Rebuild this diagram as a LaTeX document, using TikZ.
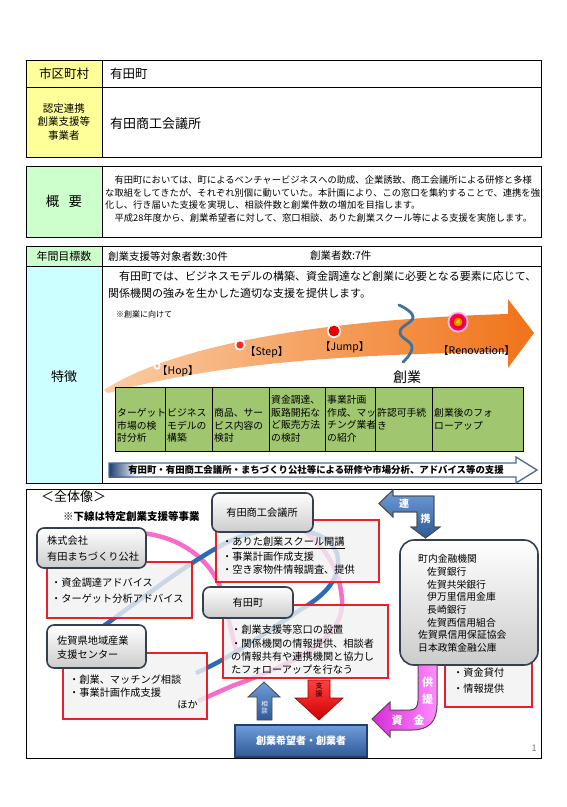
\documentclass[tikz,border=0pt]{standalone}
\usepackage{fontspec}
\setmainfont{Noto Sans CJK JP}
\usetikzlibrary{calc}
\definecolor{ylw}{HTML}{FFFF99}
\definecolor{lgreen}{HTML}{CCFFCC}
\definecolor{lcyan}{HTML}{CCFFFF}
\definecolor{cellgreen}{RGB}{160,198,112}
\definecolor{boxedge}{HTML}{34404F}
\definecolor{navy}{HTML}{1F3F73}
\definecolor{arrowedge}{HTML}{4A6A94}
\definecolor{redbox}{HTML}{E8202A}
\definecolor{pinkline}{HTML}{F56CCB}
\definecolor{blueline}{HTML}{2A6CB8}
\definecolor{peach}{RGB}{250,205,165}
\definecolor{dorange}{RGB}{240,115,25}
\definecolor{squig}{HTML}{41719C}
\definecolor{bluetop}{HTML}{6E9DDA}
\definecolor{bluebot}{HTML}{2E5A96}
\definecolor{magtop}{HTML}{FF8CFF}
\definecolor{magbot}{HTML}{D62CD6}
\definecolor{redtop}{HTML}{FF4040}
\definecolor{redbot}{HTML}{D00000}
\begin{document}
\begin{tikzpicture}[x=1pt,y=-1pt,
  lbl/.style={anchor=west,inner sep=0pt},
  lble/.style={anchor=east,inner sep=0pt},
  ctr/.style={anchor=center,inner sep=0pt},
  tline/.style={line width=0.8pt,draw=black},
  grbox/.style={draw=boxedge,line width=1.6pt,rounded corners=7pt,top color=white,bottom color=black!20},
  rbox/.style={draw=redbox,line width=1.1pt,fill=black!5,fill opacity=0.8},
  cellbox/.style={draw=black,line width=0.8pt,fill=cellgreen},
  celltxt/.style={anchor=west,inner sep=0pt,align=left,font=\fontsize{9.8}{12.5}\selectfont},
  blockarrow/.style={draw=black!70,line width=0.8pt},
  fa/.style={font=\fontsize{9.3}{10}\selectfont},
  fb/.style={font=\fontsize{10.2}{12}\selectfont},
  fc/.style={font=\fontsize{11}{12}\selectfont},
  fd/.style={font=\fontsize{12.5}{14}\selectfont},
  ff/.style={font=\fontsize{9.8}{12}\selectfont},
]
\useasboundingbox (0,0) rectangle (566,807);
\fill[white] (0,0) rectangle (566,807);

% ---------- table 1 ----------
\fill[ylw] (26,60) rectangle (102,157);
\draw[tline] (26,60) rectangle (541,157);
\draw[tline] (102,60) -- (102,157);
\draw[tline] (26,87) -- (541,87);
\node[ctr,fd] (muni) at (64,73.5) {市区町村};
\node[lbl,fd] (munival) at (110,73.5) {有田町};
\node[ctr,align=center,font=\fontsize{10.5}{13.5}\selectfont] (cert) at (64,122) {認定連携\\創業支援等\\事業者};
\node[lbl,font=\fontsize{13}{15}\selectfont] (certval) at (110,124) {有田商工会議所};

% ---------- table 2 ----------
\fill[lgreen] (26,166) rectangle (102,237);
\draw[tline] (26,166) rectangle (541,237);
\draw[tline] (102,166) -- (102,237);
\node[ctr,font=\fontsize{13.5}{15}\selectfont] (gaiyo) at (64,201) {概\hspace{0.7em}要};
\node[lbl,fa] (ov1) at (105,180) {　有田町においては、町によるベンチャービジネスへの助成、企業誘致、商工会議所による研修と多様};
\node[lbl,fa] (ov2) at (105,192.5) {な取組をしてきたが、それぞれ別個に動いていた。本計画により、この窓口を集約することで、連携を強};
\node[lbl,fa] (ov3) at (105,205) {化し、行き届いた支援を実現し、相談件数と創業件数の増加を目指します。};
\node[lbl,fa] (ov4) at (105,217.5) {　平成28年度から、創業希望者に対して、窓口相談、ありた創業スクール等による支援を実施します。};

% ---------- table 3 ----------
\fill[lgreen] (26,246) rectangle (102,266);
\fill[lcyan] (26,266) rectangle (102,483);
\draw[tline] (26,246) rectangle (541,483);
\draw[tline] (102,246) -- (102,483);
\draw[tline] (26,266) -- (541,266);
\node[ctr,font=\fontsize{11}{13}\selectfont] (goal) at (64,256) {年間目標数};
\node[lbl,font=\fontsize{10.5}{12}\selectfont] (goal1) at (108,256) {創業支援等対象者数:30件};
\node[lbl,font=\fontsize{10.5}{12}\selectfont] (goal2) at (310,256) {創業者数:7件};
\node[ctr,font=\fontsize{13}{15}\selectfont] (tokucho) at (64,377) {特徴};
\node[lbl,fc] (tk1) at (108,276) {　有田町では、ビジネスモデルの構築、資金調達など創業に必要となる要素に応じて、};
\node[lbl,fc] (tk2) at (108,293) {関係機関の強みを生かした適切な支援を提供します。};
\node[lbl,font=\fontsize{8}{10}\selectfont] (toward) at (116,314) {※創業に向けて};

% orange curved arrow
\shade[left color=peach,right color=dorange]
  (104,390) .. controls (165,350) and (300,320) .. (508,314)
  -- (508,299) -- (534,333) -- (508,368) -- (508,352)
  .. controls (340,354) and (215,364) .. (108,393) -- cycle;

% squiggle
\draw[squig,line width=2.8pt,line cap=round] plot[smooth,tension=0.8] coordinates {(399,305) (413,317) (400,332) (412,347) (403,362)};

% dots
\fill[white] (157,366) circle (3.6);
\fill[peach!70!orange] (157,366) circle (1.9);
\fill[white] (240,345) circle (5.6);
\fill[red!80!pink] (240,345) circle (3.6);
\fill[white] (334,331) circle (7);
\fill[red!92!black] (334,331) circle (5.4);
\fill[magenta!25] (458,322) circle (10.5);
\fill[magenta!80!red] (458,322) circle (8.6);
\fill[red] (458,322) circle (6.5);
\fill[orange] (458,322) circle (4.3);
\fill[yellow!70!green] (458,322) circle (2);

\node[lbl,font=\fontsize{10.5}{12}\selectfont] (hop) at (157,371) {【Hop】};
\node[lbl,font=\fontsize{10.5}{12}\selectfont] (step) at (245,352) {【Step】};
\node[lbl,font=\fontsize{10.5}{12}\selectfont] (jump) at (320,347) {【Jump】};
\node[lbl,font=\fontsize{10.5}{12}\selectfont] (renov) at (438,351) {【Renovation】};
\node[ctr,font=\fontsize{14}{16}\selectfont] (sogyo) at (407,377) {創業};

% green cells
\draw[cellbox] (115,387) rectangle (165,451);
\draw[cellbox] (165,387) rectangle (212,451);
\draw[cellbox] (212,387) rectangle (269,451);
\draw[cellbox] (269,387) rectangle (325,451);
\draw[cellbox] (325,387) rectangle (375,451);
\draw[cellbox] (375,387) rectangle (432,451);
\draw[cellbox] (432,387) rectangle (523,451);
\node[celltxt] (c1) at (117,425.5) {ターゲット\\市場の検\\討分析};
\node[celltxt] (c2) at (167,425.5) {ビジネス\\モデルの\\構築};
\node[celltxt] (c3) at (214,425.5) {商品、サー\\ビス内容の\\検討};
\node[celltxt] (c4) at (271,419) {資金調達、\\販路開拓な\\ど販売方法\\の検討};
\node[celltxt] (c5) at (327,419) {事業計画\\作成、マッ\\チング業者\\の紹介};
\node[celltxt] (c6) at (377,419) {許認可手続\\き};
\node[celltxt] (c7) at (434,419) {創業後のフォ\\ローアップ};

% blue outline arrow
\fill[white] (109,463) -- (516,463) -- (516,457) -- (537,470) -- (516,483) -- (516,477) -- (109,477) -- cycle;
\shade[left color=navy,right color=white] (109,463) rectangle (138,477);
\draw[draw=arrowedge,line width=1.3pt,line join=miter] (109,463) -- (516,463) -- (516,457) -- (537,470) -- (516,483) -- (516,477) -- (109,477) -- cycle;
\node[ctr,font=\bfseries\fontsize{9.4}{11}\selectfont] (support) at (316,470) {有田町・有田商工会議所・まちづくり公社等による研修や市場分析、アドバイス等の支援};

% ---------- bottom overview ----------
\draw[tline] (26,489) rectangle (541,758);
\node[lbl,font=\fontsize{13}{15}\selectfont] (zentai) at (41,497) {＜全体像＞};
\node[lbl,font=\bfseries\fontsize{10.5}{12}\selectfont] (note) at (63,516) {※下線は特定創業支援等事業};

% decorative loops
\draw[pinkline,line width=4.5pt] (140,533) .. controls (180,536) and (212,560) .. (222,592) .. controls (228,615) and (232,635) .. (236,650);
\draw[pinkline,line width=4.5pt] (198,701) -- (232,686) .. controls (290,665) and (345,640) .. (342,600) .. controls (340,570) and (325,545) .. (300,528);
\draw[blueline,line width=4.5pt] (98,630) .. controls (140,600) and (185,565) .. (222,545) .. controls (270,518) and (342,525) .. (338,565) .. controls (336,585) and (320,598) .. (300,610) .. controls (262,635) and (232,657) .. (196,673);

% red info boxes
\draw[rbox] (47,562) rectangle (192,618);
\draw[rbox] (216,520) rectangle (379,582);
\draw[rbox] (223,605) rectangle (388,678);
\draw[rbox] (63,653) rectangle (207,719);
\draw[rbox] (445,645) rectangle (532,707);

% organisation boxes
\draw[grbox] (37,528) rectangle (146,568);
\draw[grbox] (212,493) rectangle (313,532);
\draw[grbox] (203,587) rectangle (293,618);
\draw[grbox] (47,625) rectangle (146,668);
\draw[grbox,rounded corners=14pt] (400,540) rectangle (538,665);

\node[lbl,fb] (kk1) at (47,541) {株式会社};
\node[lbl,fb] (kk2) at (47,557) {有田まちづくり公社};
\node[lbl,fb] (kk3) at (51,583) {・資金調達アドバイス};
\node[lbl,fb] (kk4) at (51,599) {・ターゲット分析アドバイス};

\node[ctr,fb] (cci) at (262,513) {有田商工会議所};
\node[lbl,fb] (cci1) at (222,543) {・\underline{ありた創業スクール開講}};
\node[lbl,fb] (cci2) at (222,556.5) {・事業計画作成支援};
\node[lbl,fb] (cci3) at (222,570) {・空き家物件情報調査、提供};

\node[ctr,fb] (town) at (248,603) {有田町};
\node[lbl,fb] (tw1) at (231,630) {・創業支援等窓口の設置};
\node[lbl,fb] (tw2) at (231,643.5) {・関係機関の情報提供、相談者};
\node[lbl,fb] (tw3) at (231,657) {の情報共有や連携機関と協力し};
\node[lbl,fb] (tw4) at (231,670) {たフォローアップを行なう};

\node[lbl,fb] (sg1) at (57,641) {佐賀県地域産業};
\node[lbl,fb] (sg2) at (57,655) {支援センター};
\node[lbl,fb] (sg3) at (69,680) {・創業、マッチング相談};
\node[lbl,fb] (sg4) at (69,692.5) {・事業計画作成支援};
\node[lble,fb] (sg5) at (198,705) {ほか};

\node[lbl,ff] (fn0) at (418,559) {町内金融機関};
\node[lbl,ff] (fn1) at (427,571.7) {佐賀銀行};
\node[lbl,ff] (fn2) at (427,584.4) {佐賀共栄銀行};
\node[lbl,ff] (fn3) at (427,597) {伊万里信用金庫};
\node[lbl,ff] (fn4) at (427,609.8) {長崎銀行};
\node[lbl,ff] (fn5) at (427,622.5) {佐賀西信用組合};
\node[lbl,ff] (fn6) at (418,635.2) {佐賀県信用保証協会};
\node[lbl,ff] (fn7) at (418,648) {日本政策金融公庫};
\node[lbl,fb] (fn8) at (453,673) {・資金貸付};
\node[lbl,fb] (fn9) at (453,689) {・情報提供};

% entrepreneurs box
\draw[draw=navy,line width=1.6pt,top color=bluetop,bottom color=bluebot] (235,725) rectangle (367,757);
\node[ctr,text=white,font=\bfseries\fontsize{10}{12}\selectfont] (seeker) at (301,741) {創業希望者・創業者};

% 連携 arrow
\shade[top color=bluetop,bottom color=bluebot,blockarrow]
 (379,503.5) -- (393,490) -- (393,496) -- (434,496) -- (434,527) -- (440,527) -- (425.5,538) -- (411,527) -- (417,527) -- (417,512) -- (393,512) -- (393,517) -- cycle;
\draw[blockarrow] (379,503.5) -- (393,490) -- (393,496) -- (434,496) -- (434,527) -- (440,527) -- (425.5,538) -- (411,527) -- (417,527) -- (417,512) -- (393,512) -- (393,517) -- cycle;
\node[ctr,text=white,font=\bfseries\fontsize{10}{12}\selectfont] (renkei1) at (404,504) {連};
\node[ctr,text=white,font=\bfseries\fontsize{10}{12}\selectfont] (renkei2) at (425.5,519) {携};

% 相談 arrow
\shade[top color=bluetop,bottom color=bluebot] (257,720) -- (257,697) -- (248,697) -- (264,682) -- (280,697) -- (272,697) -- (272,720) -- cycle;
\draw[blockarrow] (257,720) -- (257,697) -- (248,697) -- (264,682) -- (280,697) -- (272,697) -- (272,720) -- cycle;
\node[ctr,text=white,align=center,font=\fontsize{6.5}{7}\selectfont] (sodan) at (264.5,708) {相\\談};

% 支援 arrow
\shade[top color=redtop,bottom color=redbot] (308,680) -- (330,680) -- (330,698) -- (343,698) -- (319,720) -- (295,698) -- (308,698) -- cycle;
\draw[draw=red!60!black,line width=0.6pt] (308,680) -- (330,680) -- (330,698) -- (343,698) -- (319,720) -- (295,698) -- (308,698) -- cycle;
\node[ctr,align=center,font=\fontsize{7}{8}\selectfont] (shien) at (319,690) {支\\援};

% 資金供提 arrow
\shade[left color=magbot,right color=magtop]
 (418,665) -- (437,665) -- (437,705) .. controls (437,722) and (428,730) .. (412,730) -- (390,730) -- (390,737) -- (372,719) -- (390,702) -- (390,710) -- (410,710) .. controls (415,710) and (418,707) .. (418,700) -- cycle;
\draw[draw=black!70!magenta,line width=1pt]
 (418,665) -- (437,665) -- (437,705) .. controls (437,722) and (428,730) .. (412,730) -- (390,730) -- (390,737) -- (372,719) -- (390,702) -- (390,710) -- (410,710) .. controls (415,710) and (418,707) .. (418,700) -- cycle;
\node[ctr,text=white,font=\bfseries\fontsize{11}{12}\selectfont] (kyo) at (427.5,682) {供};
\node[ctr,text=white,font=\bfseries\fontsize{11}{12}\selectfont] (tei) at (427.5,699) {提};
\node[ctr,text=white,font=\bfseries\fontsize{11}{12}\selectfont] (shi) at (397,720) {資};
\node[ctr,text=white,font=\bfseries\fontsize{11}{12}\selectfont] (kin) at (419,720) {金};

\node[ctr,text=black!55,font=\fontsize{9}{10}\selectfont] (pageno) at (534,748) {1};
\end{tikzpicture}
\end{document}
